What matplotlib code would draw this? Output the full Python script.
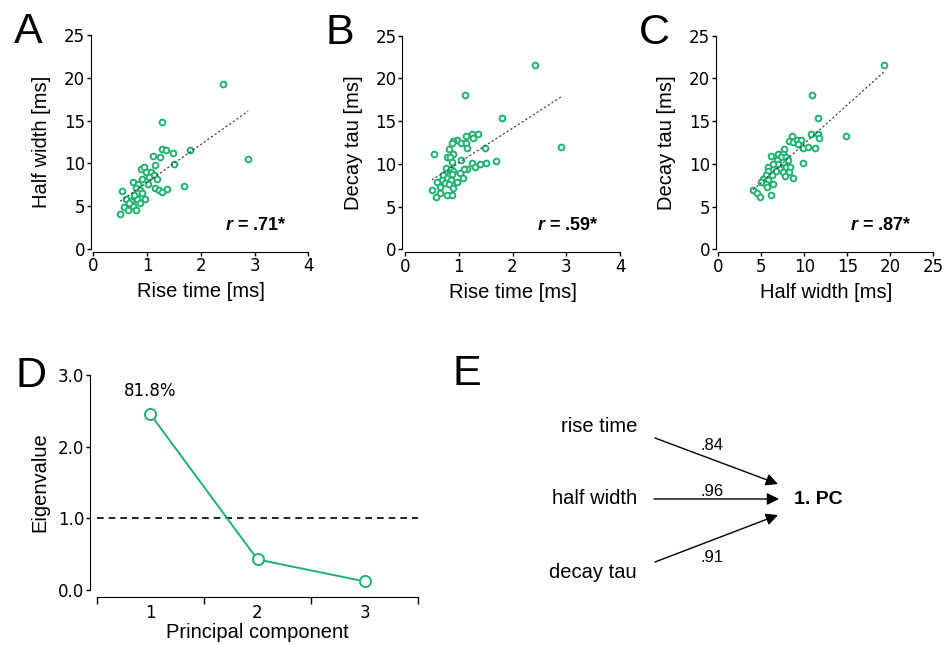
import numpy as np
import matplotlib
matplotlib.use("Agg")
import matplotlib.pyplot as plt
from matplotlib.ticker import MultipleLocator, FormatStrFormatter

plt.rcParams['mathtext.fontset'] = 'custom'
plt.rcParams['mathtext.bfit'] = 'Liberation Sans:italic:bold'
plt.rcParams['mathtext.it'] = 'Liberation Sans:italic'
plt.rcParams['mathtext.rm'] = 'Liberation Sans'

GREEN = '#1db36e'
TICKFONT = 'DejaVu Sans'
LABFONT = 'Liberation Sans'

# Panel A: rise time vs half width
rise_a = [2.42, 1.27, 2.88, 1.80, 1.27, 1.35, 1.48, 1.11, 1.24, 1.50, 1.15, 0.88, 0.95,
          0.98, 1.07, 1.13, 1.04, 1.18, 0.90, 0.74, 0.84, 1.02, 1.69, 1.15, 1.23, 1.28,
          1.38, 0.79, 0.87, 0.54, 0.81, 0.90, 0.61, 0.70, 0.81, 0.96, 0.76, 0.87, 0.73,
          0.58, 0.65, 0.79, 0.50, 0.67]
hw_a = [19.3, 14.8, 10.5, 11.6, 11.7, 11.6, 11.25, 10.9, 10.75, 9.9, 9.85, 9.35, 9.6,
        9.0, 8.95, 8.65, 8.45, 8.2, 8.2, 7.8, 7.65, 7.55, 7.4, 7.15, 6.9, 6.7,
        7.0, 7.15, 6.9, 6.8, 6.5, 6.6, 5.8, 5.65, 5.8, 5.8, 6.3, 5.4, 5.0,
        4.95, 4.5, 4.55, 4.05, 5.4]

# Panel B: rise time vs decay tau
rise_b = [2.42, 1.12, 1.81, 2.90, 1.25, 1.35, 1.13, 1.27, 0.96, 0.90, 1.05, 1.13, 0.87,
          1.15, 1.48, 0.82, 0.54, 0.90, 0.79, 0.84, 1.04, 0.87, 1.70, 1.50, 1.40, 1.24,
          1.30, 1.15, 1.09, 0.76, 0.85, 0.90, 1.02, 0.71, 0.81, 0.87, 1.07, 0.78, 0.68,
          0.85, 0.60, 0.96, 0.74, 0.82, 0.65, 0.89, 0.50, 0.66, 0.57, 0.79, 0.88]
decay_b = [21.6, 18.1, 15.35, 12.0, 13.5, 13.5, 13.25, 13.0, 12.85, 12.7, 12.45, 12.4, 12.4,
           11.9, 11.85, 11.7, 11.15, 11.15, 10.85, 10.75, 10.5, 10.2, 10.3, 10.1, 10.0, 10.05,
           9.65, 9.45, 9.35, 9.55, 9.35, 9.2, 8.95, 8.7, 8.7, 8.8, 8.4, 8.3, 8.1,
           8.1, 7.9, 7.85, 7.8, 7.6, 7.3, 7.2, 6.95, 6.55, 6.15, 6.35, 6.35]

# Panel C: half width vs decay tau
hw_c = [19.27, 10.93, 11.56, 14.81, 10.78, 11.56, 11.71, 8.53, 8.22, 8.72, 9.19, 9.62, 9.30,
        9.81, 10.47, 11.24, 7.67, 6.91, 7.56, 6.09, 7.29, 7.84, 8.14, 6.79, 7.56, 9.88,
        6.94, 6.36, 7.87, 8.34, 5.81, 7.17, 6.71, 5.81, 7.56, 8.22, 5.51, 6.21, 7.76,
        8.72, 5.23, 5.81, 4.97, 5.51, 6.36, 5.63, 4.07, 4.46, 4.85, 6.13]
decay_c = [21.6, 18.1, 15.35, 13.3, 13.55, 13.55, 13.0, 13.25, 12.65, 12.6, 12.8, 12.8, 12.3,
           11.9, 12.0, 11.8, 11.7, 11.15, 11.2, 10.9, 10.8, 10.75, 10.5, 10.45, 10.25, 10.1,
           10.0, 10.0, 9.65, 9.6, 9.6, 9.45, 9.2, 9.2, 9.0, 9.0, 8.7, 8.7, 8.55,
           8.35, 8.2, 8.1, 7.85, 7.65, 7.7, 7.25, 6.95, 6.55, 6.15, 6.35]

r_values = ['.71*', '.59*', '.87*']

# Panel D: PCA scree
components = [1, 2, 3]
eigenvalues = [2.454, 0.426, 0.120]
explained = '81.8%'

# Panel E: loadings on first PC
variables = ['rise time', 'half width', 'decay tau']
loadings = ['.84', '.96', '.91']

W, H = 946, 645
fig = plt.figure(figsize=(W / 100, H / 100), dpi=100)


def px_axes(x0, x1, y_top, y_bot):
    return fig.add_axes([x0 / W, 1 - y_bot / H, (x1 - x0) / W, (y_bot - y_top) / H])


def style_axes(ax, offset=2):
    for s in ['top', 'right']:
        ax.spines[s].set_visible(False)
    ax.spines['left'].set_position(('outward', offset))
    ax.spines['bottom'].set_position(('outward', offset))
    ax.tick_params(direction='out', length=3, width=1, labelsize=12, pad=1)
    for lab in ax.get_xticklabels() + ax.get_yticklabels():
        lab.set_fontfamily(TICKFONT)


def scatter_panel(ax, x, y, xmax, xstep, xlabel, ylabel, rtext, letter):
    x = np.array(x)
    y = np.array(y)
    ax.scatter(x, y, s=17, facecolors='white', edgecolors=GREEN, linewidths=1.4, zorder=3)
    slope, icpt = np.polyfit(x, y, 1)
    xs = np.array([x.min(), x.max()])
    ax.plot(xs, slope * xs + icpt, color='#333333', lw=0.8, ls=(0, (2, 2)), zorder=4)
    ax.set_xlim(0, xmax)
    ax.set_ylim(0, 25)
    ax.xaxis.set_major_locator(MultipleLocator(xstep))
    ax.yaxis.set_major_locator(MultipleLocator(5))
    style_axes(ax)
    ax.set_xlabel(xlabel, fontfamily=LABFONT, fontsize=14.5, labelpad=5)
    ax.set_ylabel(ylabel, fontfamily=LABFONT, fontsize=14.5, labelpad=9)
    ax.text(0.90, 0.11, r'$\mathbfit{r}$ = ' + rtext, transform=ax.transAxes,
            ha='right', va='center', fontfamily=LABFONT, fontweight='bold', fontsize=13)
    ax.text(-0.37, 0.963, letter, transform=ax.transAxes, fontfamily=LABFONT,
            fontsize=31, ha='left', va='baseline')


ax_a = px_axes(93.3, 308.3, 35, 249)
scatter_panel(ax_a, rise_a, hw_a, 4, 1, 'Rise time [ms]', 'Half width [ms]', r_values[0], 'A')
ax_b = px_axes(405, 620, 35.7, 249.3)
scatter_panel(ax_b, rise_b, decay_b, 4, 1, 'Rise time [ms]', 'Decay tau [ms]', r_values[1], 'B')
ax_c = px_axes(718.3, 933.3, 35.7, 249.3)
scatter_panel(ax_c, hw_c, decay_c, 25, 5, 'Half width [ms]', 'Decay tau [ms]', r_values[2], 'C')

# Panel D
ax_d = px_axes(96.7, 418.3, 375, 590)
ax_d.plot(components, eigenvalues, color=GREEN, lw=1.4, marker='o', ms=8,
          mfc='white', mec=GREEN, mew=1.4, zorder=3)
ax_d.axhline(1.0, color='black', lw=1.2, ls=(0, (4, 3)))
ax_d.set_xlim(0.5, 3.5)
ax_d.set_ylim(0, 3)
ax_d.set_xticks(components)
ax_d.set_xticks([0.5, 1.5, 2.5, 3.5], minor=True)
ax_d.yaxis.set_major_locator(MultipleLocator(1))
ax_d.yaxis.set_major_formatter(FormatStrFormatter('%.1f'))
style_axes(ax_d, offset=5)
ax_d.tick_params(axis='x', which='major', length=0, pad=5)
ax_d.tick_params(axis='x', which='minor', length=5, width=1)
ax_d.set_xlabel('Principal component', fontfamily=LABFONT, fontsize=14.5, labelpad=1)
ax_d.set_ylabel('Eigenvalue', fontfamily=LABFONT, fontsize=14.5, labelpad=6)
ax_d.annotate(explained, (components[0], eigenvalues[0]), xytext=(0, 10),
              textcoords='offset points', ha='center', va='bottom',
              fontfamily=TICKFONT, fontsize=12)
ax_d.text(-0.254, 0.944, 'D', transform=ax_d.transAxes, fontfamily=LABFONT,
          fontsize=31, ha='left', va='baseline')

# Panel E: loadings diagram (pixel coordinates)
ax_e = fig.add_axes([0, 0, 1, 1], zorder=-1)
ax_e.set_xlim(0, W)
ax_e.set_ylim(H, 0)
ax_e.axis('off')
ax_e.text(452, 385, 'E', fontfamily=LABFONT, fontsize=31, ha='left', va='baseline')
var_y = [427, 499, 572]
starts = [(655, 438), (654, 499), (655, 562)]
ends = [(778, 484), (779, 499), (778, 515)]
load_pos = [(712, 445), (712, 491), (712, 557)]
for name, yv, st, en, ld, lp in zip(variables, var_y, starts, ends, loadings, load_pos):
    ax_e.text(637, yv, name, fontfamily=LABFONT, fontsize=14.5, ha='right', va='center')
    ax_e.annotate('', xy=en, xytext=st,
                  arrowprops=dict(arrowstyle='-|>', color='black', lw=1.0,
                                  mutation_scale=18, shrinkA=0, shrinkB=0))
    ax_e.text(lp[0], lp[1], ld, fontfamily=LABFONT, fontsize=12, ha='center', va='center')
ax_e.text(794, 499, '1. PC', fontfamily=LABFONT, fontsize=14, fontweight='bold',
          ha='left', va='center')

fig.savefig('out.png', dpi=100)
